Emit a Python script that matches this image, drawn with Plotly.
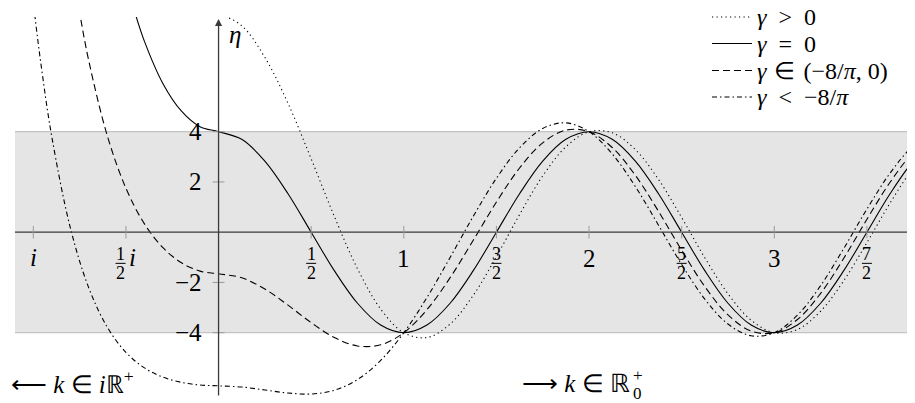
import plotly.graph_objects as go

# real branch k >= 0 (right of the eta axis)
k_re = [0, 0.125, 0.25, 0.375, 0.5, 0.625, 0.75, 0.875, 1, 1.125, 1.25, 1.375, 1.5, 1.625, 1.75, 1.875,
        2, 2.125, 2.25, 2.375, 2.5, 2.625, 2.75, 2.875, 3, 3.125, 3.25, 3.375, 3.5, 3.625, 3.75, 3.875]
eta_pos_re = [8.70, 8.22, 6.958, 5.128, 2.920, 0.628, -1.452, -3.057, -4.0, -4.192, -3.654, -2.512,
              -0.973, 0.701, 2.239, 3.398, 4.0, 3.958, 3.287, 2.099, 0.584, -1.017, -2.453, -3.501,
              -4.0, -3.874, -3.146, -1.930, -0.417, 1.159, 2.553, 3.551]
eta_zero_re = [4.0, 3.696, 2.828, 1.531, 0.0, -1.531, -2.828, -3.696, -4.0, -3.696, -2.828, -1.531,
               0.0, 1.531, 2.828, 3.696, 4.0, 3.696, 2.828, 1.531, 0.0, -1.531, -2.828, -3.696,
               -4.0, -3.696, -2.828, -1.531, 0.0, 1.531, 2.828, 3.696]
eta_mid_re = [-1.655, -1.815, -2.263, -2.904, -3.600, -4.191, -4.526, -4.483, -4.0, -3.083, -1.810, -0.321,
              1.200, 2.554, 3.556, 4.063, 4.0, 3.371, 2.263, 0.830, -0.720, -2.164, -3.291, -3.935,
              -4.0, -3.475, -2.437, -1.038, 0.514, 1.989, 3.168, 3.873]
eta_neg_re = [-6.116, -6.162, -6.279, -6.402, -6.440, -6.291, -5.864, -5.104, -4.0, -2.600, -1.007, 0.633,
              2.147, 3.361, 4.130, 4.353, 4.0, 3.116, 1.817, 0.278, -1.288, -2.664, -3.656, -4.124,
              -4.0, -3.301, -2.128, -0.649, 0.920, 2.351, 3.436, 4.014]

# imaginary branch k = i*kappa (drawn to the left, x = -kappa)
kappa_pos = [0.1]
eta_pos_im = [9.0]
kappa_zero = [0.1, 0.2, 0.3, 0.4, 0.45, 0.5]
eta_zero_im = [4.199, 4.816, 5.912, 7.596, 8.709, 10.037]
kappa_mid = [0.1, 0.2, 0.3, 0.4, 0.5, 0.6, 0.7, 0.75, 0.8]
eta_mid_im = [-1.549, -1.218, -0.618, 0.331, 1.752, 3.825, 6.805, 8.744, 11.055]
kappa_neg = [0.1, 0.2, 0.3, 0.4, 0.5, 0.6, 0.7, 0.8, 0.9, 0.95, 1.0, 1.1]
eta_neg_im = [-6.084, -5.979, -5.770, -5.401, -4.783, -3.789, -2.228, 0.171, 3.792, 6.224, 9.181, 17.10]

x_ticks = [-1, -0.5, 0.5, 1, 1.5, 2, 2.5, 3, 3.5]
y_ticks = [-4, -2, 2, 4]
y_tick_text = ['\u22124', '\u22122', '2', '4']
int_ticks = {1: '1', 2: '2', 3: '3'}
frac_ticks = {0.5: ('1', '2'), 1.5: ('3', '2'), 2.5: ('5', '2'), 3.5: ('7', '2')}

SP = '\u2002'
SP3 = '\u2004'
legend_names = ['<i>\u03b3</i>' + SP + '&gt;' + SP + '0',
                '<i>\u03b3</i>' + SP + '=' + SP + '0',
                '<i>\u03b3</i>' + SP3 + '\u2208' + SP3 + '(\u22128/<i>\u03c0</i>, 0)',
                '<i>\u03b3</i>' + SP + '&lt;' + SP + '\u22128/<i>\u03c0</i>']
dashes = ['1.2px,3.3px', 'solid', '7px,4px', '5px,3px,1.5px,3px']

FONT = 'Liberation Serif'
band_color = '#e5e5e5'
axis_color = '#3a3a3a'
tick_color = '#9a9a9a'

curves = [
    (kappa_pos, eta_pos_im, eta_pos_re),
    (kappa_zero, eta_zero_im, eta_zero_re),
    (kappa_mid, eta_mid_im, eta_mid_re),
    (kappa_neg, eta_neg_im, eta_neg_re),
]

fig = go.Figure()
for (kap, eim, ere), dash in zip(curves, dashes):
    xs = [-v for v in kap[::-1]] + k_re
    ys = eim[::-1] + ere
    fig.add_trace(go.Scatter(x=xs, y=ys, mode='lines', line_shape='spline',
                             line=dict(color='black', width=1.1, dash=dash), showlegend=False,
                             hoverinfo='skip'))

# grey band |eta| <= 4
fig.add_shape(type='rect', x0=-1.099, x1=3.9, y0=-4, y1=4, fillcolor=band_color,
              line_width=0, layer='below')
for yy in (-4, 4):
    fig.add_shape(type='line', x0=-1.099, x1=3.9, y0=yy, y1=yy,
                  line=dict(color='#c4c4c4', width=1.2), layer='below')

# axes
fig.add_shape(type='line', x0=-1.099, x1=3.9, y0=0, y1=0, line=dict(color=axis_color, width=1.3))
fig.add_annotation(x=0, y=8.49, ax=0, ay=-6.56, axref='x', ayref='y', xref='x', yref='y', text='',
                   showarrow=True, arrowhead=2, arrowsize=1.1, arrowwidth=1.3, arrowcolor=axis_color)
for xt in x_ticks:
    fig.add_shape(type='line', x0=xt, x1=xt, y0=-0.25, y1=0.25, line=dict(color=tick_color, width=1))
for yt in y_ticks:
    fig.add_shape(type='line', x0=-0.032, x1=0.032, y0=yt, y1=yt, line=dict(color=tick_color, width=1))


def txt(x, y, s, size=25, xanchor='center', xref='x', yref='y'):
    fig.add_annotation(x=x, y=y, xref=xref, yref=yref, text=s, showarrow=False, xanchor=xanchor,
                       yanchor='middle', font=dict(family=FONT, size=size, color='black'))


def frac(xc, num, den):
    txt(xc, -0.86, num, size=18)
    txt(xc, -1.64, den, size=18)
    fig.add_shape(type='line', x0=xc - 0.027, x1=xc + 0.027, y0=-1.24, y1=-1.24,
                  line=dict(color='black', width=1))


for xt, s in int_ticks.items():
    txt(xt, -1.03, s)
for xt, (n, d) in frac_ticks.items():
    frac(xt, n, d)
txt(-1.0, -1.0, '<i>i</i>')
frac(-0.529, '1', '2')
txt(-0.462, -1.0, '<i>i</i>')

for yt, s in zip(y_ticks, y_tick_text):
    txt(-0.076, yt, s, xanchor='right')

txt(0.09, 7.87, '<i>\u03b7</i>')

# direction labels
txt(-1.133, -5.96, '\u27f5 <i>k</i> \u2208 <i>i</i>\u211d<sup>+</sup>', xanchor='left')
txt(2.232, -6.04, '\u27f6 <i>k</i> \u2208 \u211d', xanchor='right')
txt(2.262, -5.70, '+', size=17)
txt(2.262, -6.40, '0', size=17)

# legend drawn by hand (page body is offset by 8px)
rows_py = [17, 43.5, 70.5, 97]
for py, name, dash in zip(rows_py, legend_names, dashes):
    yp = (403 - py) / 386
    fig.add_shape(type='line', xref='paper', yref='paper', x0=(712 - 8) / 907, x1=(752 - 8) / 907,
                  y0=yp, y1=yp, line=dict(color='black', width=1.1, dash=dash))
    txt((755 - 8) / 907, yp, name, size=24, xanchor='left', xref='paper', yref='paper')

fig.update_xaxes(range=[-1.1366, 3.7596], visible=False)
fig.update_yaxes(range=[-6.798, 8.565], visible=False)
fig.update_layout(width=907, height=395, margin=dict(l=0, r=0, t=9, b=0),
                  plot_bgcolor='white', paper_bgcolor='white', showlegend=False)

fig.write_html("out.html")
